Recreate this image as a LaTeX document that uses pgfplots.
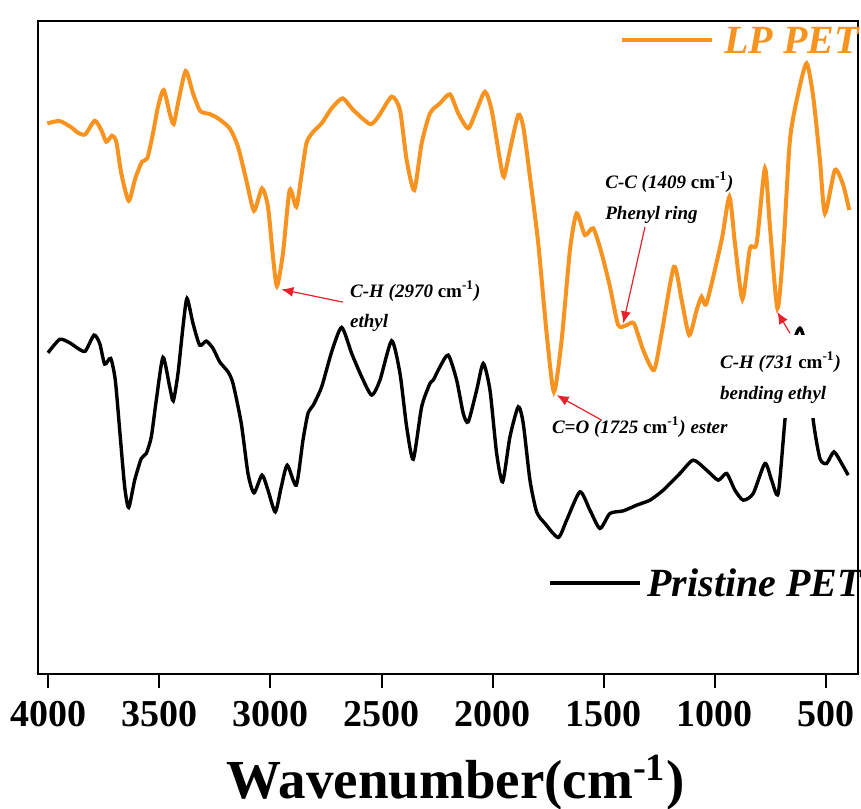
\documentclass[border=0pt]{standalone}
\usepackage{fontspec}
\setmainfont{Liberation Serif}
\usepackage{pgfplots}
\pgfplotsset{compat=1.18}
\usetikzlibrary{arrows.meta, calc}
\definecolor{lpOrange}{HTML}{F7931E}
\definecolor{annRed}{HTML}{E8202A}

\pgfplotstableread{
wn y
4004.5 550.7
3948.7 553.0
3896.5 546.7
3866.4 541.3
3833.5 539.7
3791.2 553.3
3761.5 544.0
3739.0 532.3
3713.3 538.3
3694.0 532.3
3671.5 500.7
3638.2 473.3
3608.5 495.7
3578.3 512.3
3554.5 515.7
3528.8 540.7
3506.3 567.3
3480.7 584.0
3453.7 560.7
3435.7 550.0
3416.3 570.7
3381.7 603.0
3348.8 580.7
3316.0 563.0
3273.7 560.0
3236.3 555.7
3183.7 545.7
3146.3 527.3
3109.0 494.0
3074.3 463.3
3038.3 485.7
3011.3 467.3
2988.8 417.3
2970.8 388.0
2943.8 421.0
2913.7 484.0
2884.0 467.3
2861.5 497.3
2838.1 531.0
2807.5 542.3
2769.7 550.7
2724.7 565.7
2675.2 575.7
2627.5 564.0
2552.3 550.0
2515.0 557.3
2454.7 577.3
2417.3 564.0
2387.2 514.0
2353.0 484.0
2319.7 530.7
2282.3 560.7
2237.3 570.7
2192.3 579.7
2155.0 560.7
2110.0 545.7
2072.2 564.0
2034.8 582.3
2004.7 564.0
1967.3 514.0
1949.3 497.3
1922.3 524.0
1885.0 559.0
1862.5 547.3
1832.3 497.3
1795.0 430.7
1757.2 340.7
1724.3 282.3
1689.7 334.0
1652.3 424.0
1622.2 460.7
1584.8 439.0
1547.5 445.7
1509.7 420.7
1472.3 387.3
1435.0 349.0
1397.2 349.0
1364.3 350.7
1322.5 324.0
1274.3 304.0
1239.7 340.7
1184.3 407.3
1149.7 374.0
1115.5 339.0
1082.2 364.0
1059.7 377.3
1037.2 371.0
969.7 434.0
934.6 477.3
909.8 430.7
876.1 375.0
842.3 425.7
812.2 430.7
774.8 505.7
752.3 447.3
718.6 365.7
692.5 424.0
662.3 534.0
625.0 580.7
587.2 610.7
557.5 577.3
527.3 514.0
504.8 460.7
459.8 504.0
422.5 489.0
395.5 464.0
}\lppet

\pgfplotstableread{
wn y
4001.4 321.3
3948.7 334.7
3903.7 331.3
3866.4 325.7
3833.5 323.0
3794.3 339.0
3768.7 330.7
3746.2 310.0
3719.2 315.7
3698.5 294.0
3678.7 244.0
3656.2 187.3
3638.2 166.7
3611.2 194.0
3581.5 215.7
3559.0 220.7
3536.5 237.3
3514.0 274.0
3483.8 316.7
3453.7 287.3
3437.5 273.3
3416.3 300.7
3393.8 347.3
3375.8 375.7
3348.8 350.7
3318.7 329.0
3289.0 333.0
3258.8 325.7
3228.7 312.3
3191.3 302.3
3168.8 290.7
3131.5 250.7
3101.3 200.7
3074.3 181.3
3038.3 199.0
3011.3 184.0
2978.5 162.3
2951.5 187.3
2924.5 209.0
2884.0 189.0
2853.8 234.0
2831.3 260.7
2807.5 269.0
2769.7 287.3
2724.7 322.3
2679.7 346.7
2634.7 320.7
2589.7 297.3
2544.7 279.0
2507.3 294.0
2454.7 333.3
2417.3 300.7
2387.2 247.3
2357.5 215.0
2319.7 267.3
2282.3 290.7
2267.5 294.0
2237.3 307.3
2200.0 319.0
2162.2 294.0
2132.5 260.7
2110.0 252.3
2072.2 284.0
2042.5 310.7
2012.3 284.0
1982.2 220.7
1955.2 192.3
1922.3 237.3
1885.0 267.3
1862.5 250.7
1832.3 194.0
1802.2 162.3
1764.8 150.7
1705.0 136.7
1667.2 154.0
1607.3 182.3
1562.3 164.0
1517.3 145.7
1472.3 160.7
1412.5 163.3
1352.2 169.0
1292.3 174.0
1232.5 184.0
1157.3 200.7
1097.5 214.0
1037.2 204.0
985.0 194.0
947.2 200.7
909.8 184.0
872.5 174.0
827.5 180.7
774.8 210.7
744.7 194.0
715.0 180.7
684.8 254.0
653.3 324.0
617.3 346.0
585.8 322.0
557.5 254.0
527.3 215.7
497.2 210.7
464.3 222.3
429.7 210.7
400.0 199.0
}\pristine

\begin{document}
\begin{tikzpicture}[ann/.style={anchor=west, inner sep=0pt, font=\fontsize{9.5}{9.5}\selectfont\bfseries\itshape}]
\begin{axis}[
  name=ax,
  scale only axis,
  width=410pt, height=326.5pt,
  x dir=reverse,
  xmin=356, xmax=4047.7,
  ymin=0, ymax=653,
  xtick={500,1000,...,4000},
  ytick=\empty,
  xtick pos=lower,
  tick align=outside,
  major tick length=7pt,
  every tick/.style={black, line width=1pt},
  axis line style={line width=1pt},
  /pgf/number format/assume math mode=true,
  /pgf/number format/1000 sep={},
  xticklabel style={font=\fontsize{19}{19}\selectfont\bfseries, yshift=-3pt},
  clip=false,
]
\addplot[no marks, black, line width=1.7pt, smooth, tension=0.4] table[x=wn, y=y] {\pristine};
\addplot[no marks, lpOrange, line width=2pt, smooth, tension=0.4] table[x=wn, y=y] {\lppet};

% white box behind the 731 label
\fill[white] (axis cs:1000.7,256) rectangle (axis cs:415.7,339);

% annotations
\node[ann] at (axis cs:2643.3,383) {C-H (2970 \textup{cm\textsuperscript{-1}})};
\node[ann] at (axis cs:2643.3,351) {ethyl};
\draw[annRed, line width=0.6pt, -{Latex[length=6pt, width=5pt]}] (axis cs:2674.7,372) -- (axis cs:2951.5,384.7);

\node[ann] at (axis cs:1734.7,247) {C=O (1725 \textup{cm\textsuperscript{-1}}) ester};
\draw[annRed, line width=0.6pt, -{Latex[length=6pt, width=5pt]}] (axis cs:1509.7,254) -- (axis cs:1712.2,279);

\node[ann] at (axis cs:1494.9,492) {C-C (1409 \textup{cm\textsuperscript{-1}})};
\node[ann] at (axis cs:1494.9,459) {Phenyl ring};
\draw[annRed, line width=0.6pt, -{Latex[length=6pt, width=5pt]}] (axis cs:1314.8,447) -- (axis cs:1412.5,350.7);

\node[ann] at (axis cs:978.2,312) {C-H (731 \textup{cm\textsuperscript{-1}})};
\node[ann] at (axis cs:978.2,279) {bending ethyl};
\draw[annRed, line width=0.6pt, -{Latex[length=6pt, width=5pt]}] (axis cs:662.3,341) -- (axis cs:719.6,362.3);

% legends
\draw[lpOrange, line width=2pt] (axis cs:1418,634) -- (axis cs:1013.4,634);
\node[anchor=west, inner sep=0pt, text=lpOrange, font=\fontsize{20}{20}\selectfont\bfseries\itshape] at (axis cs:959,634) {LP PET};
\draw[black, line width=1.7pt] (axis cs:1742.4,91) -- (axis cs:1337.4,91);
\node[anchor=west, inner sep=0pt, font=\fontsize{20}{20}\selectfont\bfseries\itshape] at (axis cs:1306,91) {Pristine PET};

% x label
\node[anchor=base, inner sep=0pt, font=\fontsize{27.5}{27.5}\selectfont\bfseries] at (axis cs:2167,-124) {Wavenumber(cm\textsuperscript{-1})};
\end{axis}
\pgfresetboundingbox
\path ($(ax.south west)+(-18.85pt,-67pt)$) rectangle ($(ax.north east)+(1.5pt,10.5pt)$);
\end{tikzpicture}
\end{document}
